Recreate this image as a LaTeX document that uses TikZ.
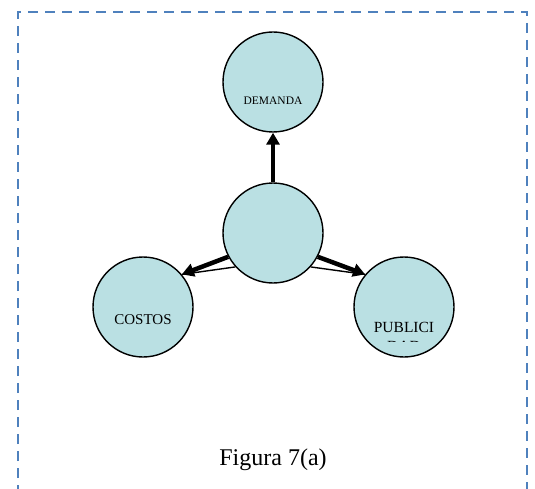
\documentclass[tikz,border=0pt]{standalone}
\usepackage{fontspec}
\setmainfont{Liberation Serif}
\usetikzlibrary{arrows.meta}
\definecolor{cfill}{HTML}{BAE0E3}
\definecolor{dashblue}{HTML}{4F81BD}
\begin{document}
\begin{tikzpicture}[x=1pt,y=-1pt,
  bub/.style={circle,draw=black,line width=1.4pt,fill=cfill,minimum size=100pt,inner sep=0pt},
  thickarr/.style={line width=4.5pt,-{Triangle[length=12pt,width=13pt]}},
  thinln/.style={line width=1.4pt}]
\useasboundingbox (0,0) rectangle (535,489);
\draw[dashblue,line width=1.9pt,dash pattern=on 10pt off 7pt] (18,495) -- (18,12) -- (527,12) -- (527,495);
\node[bub] (dem) at (273,82) {};
\node[bub] (cen) at (273,233) {};
\node[bub] (cos) at (143,307) {};
\node[bub] (pub) at (404,307) {};
\node[font=\fontsize{11.5}{13}\selectfont] (demt) at (273,101) {DEMANDA};
\node[font=\fontsize{15}{17}\selectfont] (cost) at (143,320) {COSTOS};
\begin{scope}
\clip (340,310) rectangle (470,341);
\node[font=\fontsize{15.5}{19}\selectfont,align=center,anchor=north] (pubt) at (404,319) {PUBLICI\\DAD};
\end{scope}
\draw[thickarr] (cen.north) -- (dem.south);
\draw[thinln] (cen.222) -- (cos.40);
\draw[thinln] (cen.318) -- (pub.140);
\draw[thickarr] (cen.208) -- (cos.40);
\draw[thickarr] (cen.332) -- (pub.140);
\node[font=\fontsize{24}{28}\selectfont] (cap) at (273,460) {Figura 7(a)};
\end{tikzpicture}
\end{document}
